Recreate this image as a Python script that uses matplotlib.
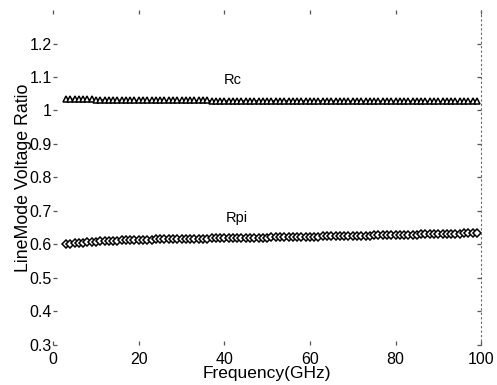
import matplotlib
matplotlib.use('Agg')
import matplotlib.pyplot as plt

plt.rcParams['font.family'] = ['Liberation Sans', 'DejaVu Sans']

# frequency points (GHz)
FREQ = list(range(3, 100))

# Rc ratio
RC = [1.034, 1.034, 1.034, 1.033, 1.033, 1.033, 1.033, 1.032, 1.032, 1.032,
      1.032, 1.031, 1.031, 1.031, 1.031, 1.031, 1.030, 1.030, 1.030, 1.030,
      1.030, 1.030, 1.030, 1.030, 1.030, 1.030, 1.030, 1.030, 1.030, 1.030,
      1.030, 1.030, 1.030, 1.030, 1.029, 1.029, 1.029, 1.029, 1.029, 1.029,
      1.029, 1.029, 1.029, 1.029, 1.029, 1.029, 1.029, 1.029, 1.029, 1.029,
      1.029, 1.029, 1.029, 1.029, 1.029, 1.029, 1.029, 1.029, 1.029, 1.029,
      1.029, 1.029, 1.029, 1.028, 1.028, 1.028, 1.028, 1.028, 1.028, 1.028,
      1.028, 1.028, 1.028, 1.028, 1.028, 1.028, 1.028, 1.028, 1.028, 1.028,
      1.028, 1.028, 1.028, 1.028, 1.028, 1.027, 1.027, 1.027, 1.027, 1.027,
      1.027, 1.027, 1.027, 1.027, 1.027, 1.027, 1.027]

# Rpi ratio
RPI = [0.600, 0.601, 0.603, 0.604, 0.605, 0.606, 0.607, 0.608, 0.609, 0.610,
       0.610, 0.611, 0.611, 0.612, 0.612, 0.613, 0.613, 0.613, 0.614, 0.614,
       0.614, 0.615, 0.615, 0.615, 0.615, 0.616, 0.616, 0.616, 0.616, 0.617,
       0.617, 0.617, 0.617, 0.617, 0.618, 0.618, 0.618, 0.618, 0.618, 0.619,
       0.619, 0.619, 0.619, 0.619, 0.620, 0.620, 0.620, 0.620, 0.621, 0.621,
       0.621, 0.621, 0.622, 0.622, 0.622, 0.622, 0.623, 0.623, 0.623, 0.623,
       0.624, 0.624, 0.624, 0.624, 0.625, 0.625, 0.625, 0.625, 0.626, 0.626,
       0.626, 0.626, 0.627, 0.627, 0.627, 0.627, 0.628, 0.628, 0.628, 0.628,
       0.629, 0.629, 0.629, 0.630, 0.630, 0.630, 0.630, 0.631, 0.631, 0.631,
       0.632, 0.632, 0.632, 0.633, 0.633, 0.633, 0.634]

XTICKS = [0, 20, 40, 60, 80, 100]
YTICKS = [0.3, 0.4, 0.5, 0.6, 0.7, 0.8, 0.9, 1.0, 1.1, 1.2]
YTICKLABELS = ['0.3', '0.4', '0.5', '0.6', '0.7', '0.8', '0.9', '1', '1.1', '1.2']

fig = plt.figure(figsize=(4.97, 3.85), dpi=100)
ax = fig.add_axes([0.107, 0.104, 0.861, 0.870])

ax.plot(FREQ, RC, color='black', linewidth=0.8, marker='^', markersize=4.5,
        markerfacecolor='white', markeredgecolor='black', markeredgewidth=1.1)
ax.plot(FREQ, RPI, color='black', linewidth=0.8, marker='D', markersize=3.8,
        markerfacecolor='white', markeredgecolor='black', markeredgewidth=1.1)

ax.text(42, 1.09, 'Rc', fontsize=10.5, ha='center', va='center')
ax.text(43, 0.679, 'Rpi', fontsize=10.5, ha='center', va='center')

ax.set_xlim(0, 100)
ax.set_ylim(0.3, 1.3)
ax.set_xticks(XTICKS)
ax.set_yticks(YTICKS)
ax.set_yticklabels(YTICKLABELS)
ax.tick_params(axis='both', direction='in', length=3, width=0.9, color='#555555',
               labelsize=11.5, top=True, right=True)
ax.tick_params(axis='y', pad=1)
ax.tick_params(axis='x', pad=5)

# the scanned frame is almost invisible
for side in ['left', 'bottom', 'top']:
    ax.spines[side].set_visible(False)
ax.spines['right'].set_linestyle((0, (1, 3)))
ax.spines['right'].set_color('#666666')
ax.spines['right'].set_linewidth(0.8)

ax.set_xlabel('Frequency(GHz)', fontsize=12.5, labelpad=-1)
ax.set_ylabel('LineMode Voltage Ratio', fontsize=12.8, labelpad=-2)

plt.savefig('out.png', dpi=100)
